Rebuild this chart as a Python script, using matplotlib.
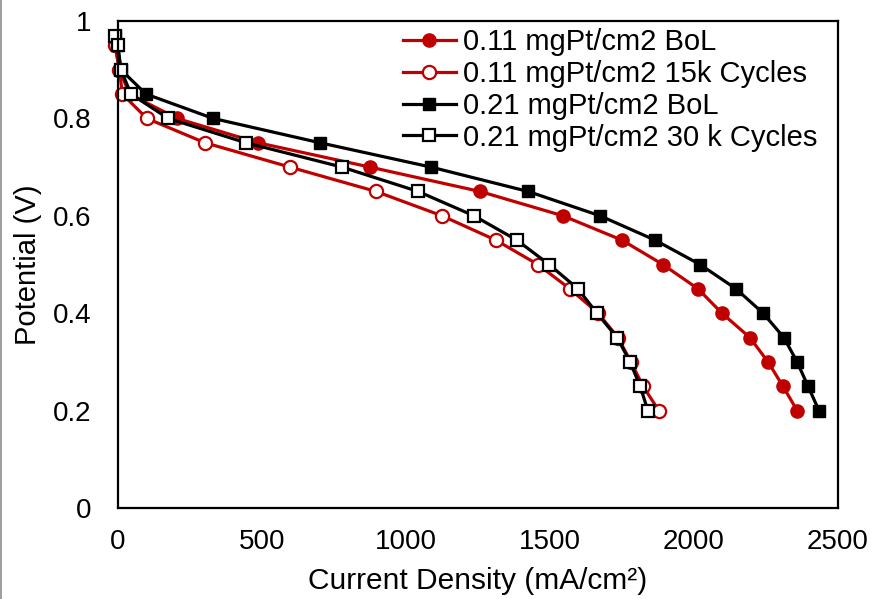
import matplotlib
matplotlib.use("Agg")
import matplotlib.pyplot as plt
from matplotlib.lines import Line2D

plt.rcParams['font.family'] = ['Liberation Sans', 'DejaVu Sans']

# potential steps (V)
volts_a = [0.95, 0.9, 0.85, 0.8, 0.75, 0.7, 0.65, 0.6, 0.55, 0.5, 0.45, 0.4, 0.35, 0.3, 0.25, 0.2]
volts_b = [0.97, 0.95, 0.9, 0.85, 0.8, 0.75, 0.7, 0.65, 0.6, 0.55, 0.5, 0.45, 0.4, 0.35, 0.3, 0.25, 0.2]

# current density (mA/cm2)
low_bol = [-10, 5, 40, 205, 486, 875, 1257, 1545, 1750, 1892, 2014, 2097, 2194, 2257, 2309, 2358]
low_15k = [-10, 5, 15, 100, 302, 597, 896, 1125, 1312, 1458, 1569, 1667, 1736, 1781, 1823, 1878]
high_bol = [-12, -3, 10, 97, 330, 701, 1087, 1424, 1674, 1865, 2021, 2146, 2240, 2312, 2358, 2396, 2434]
high_30k = [-10, 0, 10, 45, 174, 444, 778, 1042, 1236, 1385, 1497, 1597, 1663, 1733, 1778, 1813, 1840]

labels = ["0.11 mgPt/cm2 BoL", "0.11 mgPt/cm2 15k Cycles",
          "0.21 mgPt/cm2 BoL", "0.21 mgPt/cm2 30 k Cycles"]

red = "#C00000"

fig = plt.figure(figsize=(8.77, 5.99), dpi=100)
# thin grey edge on the left like the source screenshot
fig.add_artist(Line2D([0.0015, 0.0015], [0, 1], transform=fig.transFigure,
                      color="#8c8c8c", lw=1.2))
ax = fig.add_axes([118/877, (599-508)/599, 720/877, 487/599])

ax.plot(low_bol, volts_a, color=red, lw=2.3, marker="o", ms=9.5,
        mfc=red, mec=red, label=labels[0], clip_on=False)
ax.plot(low_15k, volts_a, color=red, lw=2.3, marker="o", ms=9.5,
        mfc="white", mec=red, mew=1.6, label=labels[1], clip_on=False)
ax.plot(high_bol, volts_b, color="black", lw=2.3, marker="s", ms=9,
        mfc="black", mec="black", label=labels[2], clip_on=False)
ax.plot(high_30k, volts_b, color="black", lw=2.3, marker="s", ms=9,
        mfc="white", mec="black", mew=1.6, label=labels[3], clip_on=False)

ax.set_xlim(0, 2500)
ax.set_ylim(0, 1)
ax.set_xticks([0, 500, 1000, 1500, 2000, 2500])
ax.set_yticks([0, 0.2, 0.4, 0.6, 0.8, 1])
ax.set_yticklabels(["0", "0.2", "0.4", "0.6", "0.8", "1"])
ax.tick_params(axis="both", length=0, labelsize=20)
ax.tick_params(axis="x", pad=15)
ax.tick_params(axis="y", pad=19)
for s in ax.spines.values():
    s.set_linewidth(1.6)

ax.set_xlabel("Current Density (mA/cm\u00b2)", fontsize=21.5, labelpad=9)
ax.set_ylabel("Potential (V)", fontsize=21, labelpad=8)

ax.legend(loc="upper left", bbox_to_anchor=(0.396, 0.985), frameon=False,
          fontsize=21, handlelength=1.8, handletextpad=0.25,
          labelspacing=0.13, borderpad=0, borderaxespad=0)

fig.savefig("out.png", dpi=100)
